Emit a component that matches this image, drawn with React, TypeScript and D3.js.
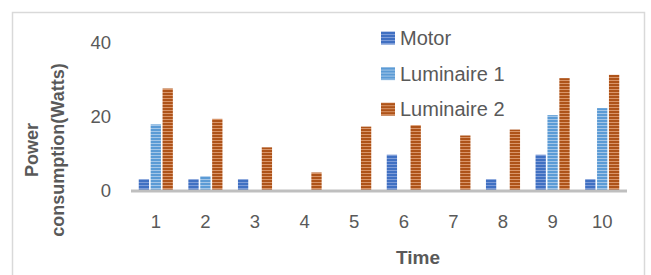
import React, { useEffect, useRef } from 'react';
import * as d3 from 'd3';

const categories = ['1', '2', '3', '4', '5', '6', '7', '8', '9', '10'];
const motor = [3.2, 3.2, 3.2, 0, 0, 9.8, 0, 3.2, 9.8, 3.2];
const luminaire1 = [18, 4, 0, 0, 0, 0, 0, 0, 20.5, 22.4];
const luminaire2 = [27.7, 19.5, 11.8, 5, 17.4, 17.8, 15, 16.6, 30.5, 31.4];
const seriesNames = ['Motor', 'Luminaire 1', 'Luminaire 2'];
const yTicks = [0, 20, 40];

const colors = ['#4070C2', '#5B9BD5', '#AE5319'];
const stripes = ['#7d9cd8', '#a3c6e8', '#d99569'];

export default function App() {
  const ref = useRef<SVGSVGElement>(null);

  useEffect(() => {
    const svg = d3.select(ref.current);
    svg.selectAll('*').remove();
    const font = 'Liberation Sans, Arial, sans-serif';

    // striped fills
    const defs = svg.append('defs');
    colors.forEach((c, i) => {
      const p = defs.append('pattern')
        .attr('id', 'stripe' + i)
        .attr('patternUnits', 'userSpaceOnUse')
        .attr('width', 6).attr('height', 3);
      p.append('rect').attr('width', 6).attr('height', 3).attr('fill', c);
      p.append('rect').attr('y', 2).attr('width', 6).attr('height', 1).attr('fill', stripes[i]);
    });

    // chart border
    svg.append('rect')
      .attr('x', 12.5).attr('y', 12.5)
      .attr('width', 632).attr('height', 280)
      .attr('fill', '#fff').attr('stroke', '#d9d9d9').attr('stroke-width', 1.5);

    const x = d3.scaleBand().domain(categories).range([131, 627]);
    const y = d3.scaleLinear().domain([0, 40]).range([191, 43]);

    const data = [motor, luminaire1, luminaire2];
    const barW = 10.3;
    const step = 11.9;

    data.forEach((vals, si) => {
      svg.append('g')
        .selectAll('rect')
        .data(vals)
        .join('rect')
        .attr('x', (d, i) => x(categories[i])! + x.bandwidth() / 2 - step - barW / 2 + si * step)
        .attr('y', d => y(d))
        .attr('width', barW)
        .attr('height', d => y(0) - y(d))
        .attr('fill', `url(#stripe${si})`);
    });

    // axis line
    svg.append('line')
      .attr('x1', 131).attr('x2', 627)
      .attr('y1', y(0)).attr('y2', y(0))
      .attr('stroke', '#bfbfbf').attr('stroke-width', 3);

    // y tick labels
    svg.append('g')
      .selectAll('text')
      .data(yTicks)
      .join('text')
      .attr('x', 111)
      .attr('y', d => y(d))
      .attr('dy', '0.35em')
      .attr('text-anchor', 'end')
      .attr('font-family', font)
      .attr('font-size', 18.5)
      .attr('fill', '#595959')
      .text(d => d);

    // x tick labels
    svg.append('g')
      .selectAll('text')
      .data(categories)
      .join('text')
      .attr('x', d => x(d)! + x.bandwidth() / 2)
      .attr('y', 222)
      .attr('dy', '0.35em')
      .attr('text-anchor', 'middle')
      .attr('font-family', font)
      .attr('font-size', 18.5)
      .attr('fill', '#595959')
      .text(d => d);

    // axis titles
    const yt = svg.append('text')
      .attr('transform', 'translate(45,150) rotate(-90)')
      .attr('text-anchor', 'middle')
      .attr('font-family', font)
      .attr('font-size', 18)
      .attr('font-weight', 'bold')
      .attr('fill', '#595959');
    yt.append('tspan').attr('x', 0).attr('y', -7).text('Power');
    yt.append('tspan').attr('x', 0).attr('y', 19).text('consumption(Watts)');

    svg.append('text')
      .attr('x', 418).attr('y', 257)
      .attr('dy', '0.35em')
      .attr('text-anchor', 'middle')
      .attr('font-family', font)
      .attr('font-size', 19)
      .attr('font-weight', 'bold')
      .attr('fill', '#595959')
      .text('Time');

    // legend
    const lg = svg.append('g')
      .selectAll('g')
      .data(seriesNames)
      .join('g')
      .attr('transform', (d, i) => `translate(381,${38 + i * 35.6})`);
    lg.append('rect')
      .attr('x', 0).attr('y', -6.5)
      .attr('width', 14).attr('height', 13)
      .attr('fill', (d, i) => `url(#stripe${i})`);
    lg.append('text')
      .attr('x', 19).attr('y', 0)
      .attr('dy', '0.35em')
      .attr('font-family', font)
      .attr('font-size', 20)
      .attr('fill', '#595959')
      .text(d => d);
  }, []);

  return (
    <svg ref={ref} width={651} height={275}
      style={{ position: 'absolute', left: 0, top: 0, background: '#fff' }} />
  );
}
